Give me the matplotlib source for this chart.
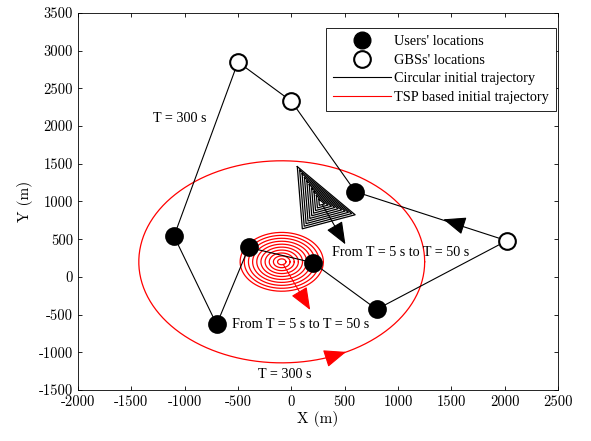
import numpy as np
import matplotlib.pyplot as plt
from matplotlib.lines import Line2D

plt.rcParams['font.family'] = ['cmr10', 'DejaVu Serif']
plt.rcParams['axes.unicode_minus'] = False
plt.rcParams['mathtext.fontset'] = 'cm'

# -------------------------------
# Data
# -------------------------------
users_x = [600, -1100, -400, 200, -700, 800]
users_y = [1130, 540, 390, 190, -630, -430]
gbs_x = [-500, 0, 2020]
gbs_y = [2850, 2330, 480]

# TSP based tour through users and GBSs
tour_x = [-500, 0, 600, 2020, 800, 200, -400, -700, -1100, -500]
tour_y = [2850, 2330, 1130, 480, -430, 190, 390, -630, 540, 2850]

# circular trajectory
circ_cx, circ_cy = -90, 200
circ_r = 1340
periods = [5, 10, 15, 20, 25, 30, 35, 40, 45, 50]
small_r = [39, 78, 117, 156, 195, 234, 273, 312, 351, 390]

# outer triangle for T = 50 s, shrunk for shorter periods
tri_x = [56, 103, 598]
tri_y = [1463, 638, 824]
tri_cx, tri_cy = 280, 984

# -------------------------------
# Plot
# -------------------------------
fig = plt.figure(figsize=(5.91, 4.41), dpi=100)
ax = fig.add_axes([78 / 591, 1 - 390 / 441, 480 / 591, 377 / 441])

th = np.linspace(0, 2 * np.pi, 400)
ax.plot(circ_cx + circ_r * np.cos(th), circ_cy + circ_r * np.sin(th), color='red', lw=0.9)
for r in small_r:
    ax.plot(circ_cx + r * np.cos(th), circ_cy + r * np.sin(th), color='red', lw=0.9)

ax.plot(tour_x, tour_y, color='black', lw=0.8)
for T in periods:
    s = T / 50
    xs = [tri_cx + s * (x - tri_cx) for x in tri_x + tri_x[:1]]
    ys = [tri_cy + s * (y - tri_cy) for y in tri_y + tri_y[:1]]
    ax.plot(xs, ys, color='black', lw=0.9)

ax.plot(users_x, users_y, 'o', color='black', ms=12, mfc='black', mew=1.5)
ax.plot(gbs_x, gbs_y, 'o', color='black', ms=12, mfc='white', mew=1.5)

# arrows
head = dict(arrowstyle='-|>,head_length=1.0,head_width=0.4', mutation_scale=14)
ax.annotate('', xy=(1400, 775), xytext=(1600, 685),
            arrowprops=dict(color='black', lw=0.8, **head))
ax.annotate('', xy=(520, 400), xytext=(tri_cx, tri_cy),
            arrowprops=dict(color='black', lw=0.8, **head))
ax.annotate('', xy=(190, -470), xytext=(circ_cx, circ_cy),
            arrowprops=dict(color='red', lw=0.8, **head))
ang = np.deg2rad(-62)
ax.annotate('', xy=(circ_cx + circ_r * np.cos(ang), circ_cy + circ_r * np.sin(ang)),
            xytext=(circ_cx + circ_r * np.cos(ang - 0.12), circ_cy + circ_r * np.sin(ang - 0.12)),
            arrowprops=dict(color='red', lw=0.8, **head))

tfont = dict(family=['Liberation Serif'], fontsize=10.2, va='center')
ax.text(-1298, 2101, 'T = 300 s', **tfont)
ax.text(-317, -1290, 'T = 300 s', **tfont)
ax.text(383, 319, 'From T = 5 s to T = 50 s', **tfont)
ax.text(-560, -625, 'From T = 5 s to T = 50 s', **tfont)

ax.set_xlim(-2000, 2500)
ax.set_ylim(-1500, 3500)
ax.set_xticks(range(-2000, 2501, 500))
ax.set_yticks(range(-1500, 3501, 500))
ax.set_xticklabels([str(v) for v in range(-2000, 2501, 500)])
ax.set_yticklabels([str(v) for v in range(-1500, 3501, 500)])
ax.tick_params(direction='in', top=True, right=True, labelsize=10.5, length=3, width=0.6)
for sp in ax.spines.values():
    sp.set_linewidth(0.6)
ax.set_xlabel('X (m)', fontsize=11, labelpad=2)
ax.set_ylabel('Y (m)', fontsize=11)

handles = [
    Line2D([], [], ls='none', marker='o', color='black', ms=12, mfc='black'),
    Line2D([], [], ls='none', marker='o', color='black', ms=12, mfc='white', mew=1.5),
    Line2D([], [], color='black', lw=0.8),
    Line2D([], [], color='red', lw=0.8),
]
labels = ["Users' locations", "GBSs' locations",
          'Circular initial trajectory', 'TSP based initial trajectory']
leg = ax.legend(handles, labels, loc='upper right', bbox_to_anchor=(0.996, 0.96),
                prop={'family': ['Liberation Serif'], 'size': 10.3},
                fancybox=False, edgecolor='black', framealpha=1,
                handlelength=4.0, labelspacing=0.38, borderaxespad=0,
                handletextpad=0.25, borderpad=0.5)
leg.get_frame().set_linewidth(0.6)

plt.savefig('out.png', dpi=100)
